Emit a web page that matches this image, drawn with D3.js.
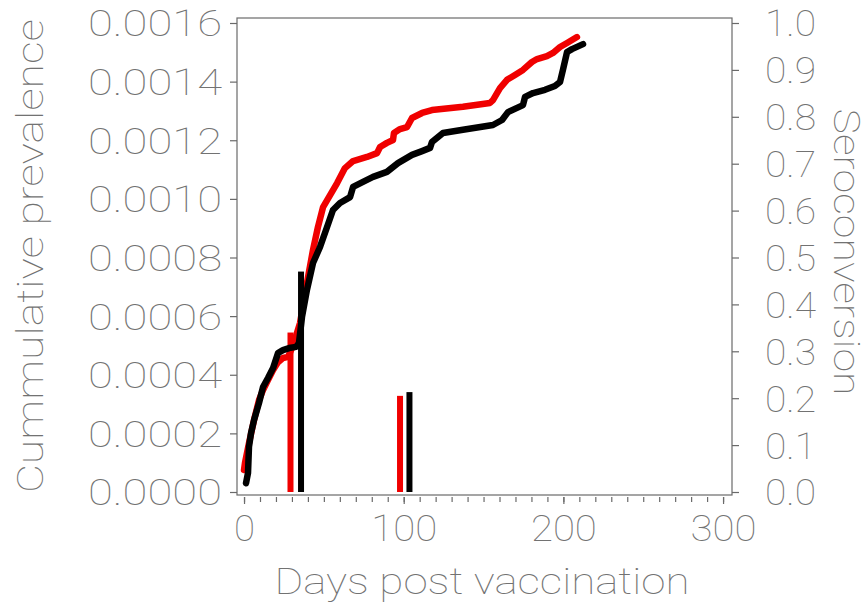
<!DOCTYPE html>
<html>
<head>
<meta charset="utf-8">
<script src="https://cdn.jsdelivr.net/npm/d3@7"></script>
<style>
  html, body { margin: 0; padding: 0; background: #fff; }
  svg { display: block; }
  .lbl { font-family: Roboto, "DejaVu Sans", sans-serif; font-weight: 100; fill: #727272; stroke: none; }
</style>
</head>
<body>
<svg id="chart" width="868" height="607"></svg>
<script>
// Cumulative prevalence curves (left axis): [day, prevalence]
const redDays = [0, 0.6, 3.1, 6.3, 9.4, 11.9, 15, 18.2, 21.3, 24.4, 27.6, 30.7, 35.1, 39.4, 43.2, 46.3, 49.5, 53.9, 58.3, 63.2, 68.3, 77, 83.3, 85.2, 89.5, 93.3, 93.9, 97.7, 102.1, 105.2, 111.5, 117.7, 137.1, 154, 155.9, 160.3, 164.7, 169.7, 174.7, 180.3, 183.5, 189.7, 193.5, 197.9, 202.3, 208.5];
const redPrev = [0.000075, 0.000099, 0.000167, 0.000246, 0.000314, 0.000348, 0.000382, 0.000416, 0.000443, 0.000457, 0.000461, 0.0005, 0.000577, 0.000713, 0.000826, 0.000904, 0.000972, 0.001013, 0.001054, 0.001105, 0.001129, 0.001143, 0.001156, 0.001177, 0.001191, 0.001201, 0.001225, 0.001238, 0.001245, 0.001276, 0.001293, 0.001303, 0.001314, 0.001327, 0.001337, 0.001378, 0.001406, 0.001423, 0.00144, 0.001467, 0.001477, 0.001487, 0.001498, 0.001518, 0.001532, 0.001552];

const blackDays = [1.25, 2.5, 3.1, 4.4, 6.3, 9.4, 11.9, 15, 18.2, 21.3, 24.4, 28.2, 32.6, 34.4, 36.3, 39.4, 43.2, 47.6, 52, 55.7, 60.1, 66.4, 68.3, 74.5, 80.8, 89.5, 96.4, 105.2, 111.5, 116.5, 117.7, 124.6, 137.1, 155.9, 161.6, 165.3, 174.7, 176, 181, 188.5, 194.7, 197.9, 199.7, 202.3, 205.4, 212.3];
const blackPrev = [0.00003, 0.000065, 0.000154, 0.000201, 0.000246, 0.000304, 0.000358, 0.000389, 0.000423, 0.000474, 0.000484, 0.000491, 0.000495, 0.000508, 0.000597, 0.000689, 0.000781, 0.000836, 0.000904, 0.000962, 0.000986, 0.001006, 0.001041, 0.001058, 0.001075, 0.001092, 0.001122, 0.00115, 0.001163, 0.001174, 0.001194, 0.001225, 0.001236, 0.001252, 0.001269, 0.001296, 0.00132, 0.001348, 0.001361, 0.001372, 0.001385, 0.001399, 0.00144, 0.001501, 0.001511, 0.001528];

// Seroconversion bars (right axis)
const redBarDays = [29.1, 97.7];
const redBarValues = [0.34, 0.205];
const blackBarDays = [35.7, 103.6];
const blackBarValues = [0.47, 0.213];

// Tick values
const leftTicks = [0, 0.0002, 0.0004, 0.0006, 0.0008, 0.0010, 0.0012, 0.0014, 0.0016];
const rightTicks = [0, 0.1, 0.2, 0.3, 0.4, 0.5, 0.6, 0.7, 0.8, 0.9, 1.0];
const xMajorTicks = [0, 100, 200, 300];
const xMinorTicks = d3.range(0, 301, 10);

const svg = d3.select("#chart");

const frame = { left: 237, right: 732, top: 18, bottom: 495 };
const x = d3.scaleLinear().domain([-4.4, 305.6]).range([frame.left, frame.right]);
const yL = d3.scaleLinear().domain([0, 0.0016]).range([492, 23]);
const yR = d3.scaleLinear().domain([0, 1]).range([492, 23]);

const axisColor = "#6a6a6a";

// Plot frame
svg.append("rect")
  .attr("x", frame.left).attr("y", frame.top)
  .attr("width", frame.right - frame.left).attr("height", frame.bottom - frame.top)
  .attr("fill", "none").attr("stroke", axisColor).attr("stroke-width", 1.2);

// Left axis
const gL = svg.append("g").attr("transform", `translate(${frame.left},0)`)
  .call(d3.axisLeft(yL).tickValues(leftTicks).tickSize(7).tickPadding(8).tickFormat(d3.format(".4f")));
gL.select(".domain").remove();
gL.selectAll(".tick line").attr("stroke", axisColor).attr("stroke-width", 1.2);
gL.selectAll(".tick text").attr("class", "lbl").attr("font-size", 36)
  .attr("dy", "0.36em").attr("textLength", 134).attr("lengthAdjust", "spacingAndGlyphs");

// Right axis
const gR = svg.append("g").attr("transform", `translate(${frame.right},0)`)
  .call(d3.axisRight(yR).tickValues(rightTicks).tickSize(7).tickPadding(26).tickFormat(d3.format(".1f")));
gR.select(".domain").remove();
gR.selectAll(".tick line").attr("stroke", axisColor).attr("stroke-width", 1.2);
gR.selectAll(".tick text").attr("class", "lbl").attr("font-size", 36)
  .attr("dy", "0.36em").attr("textLength", 51).attr("lengthAdjust", "spacingAndGlyphs");

// Bottom axis: minor ticks every 10 days, longer major ticks with labels
const gBm = svg.append("g").attr("transform", `translate(0,${frame.bottom})`)
  .call(d3.axisBottom(x).tickValues(xMinorTicks).tickSize(5).tickFormat(""));
gBm.select(".domain").remove();
gBm.selectAll(".tick line").attr("stroke", axisColor).attr("stroke-width", 1.2).attr("y1", 2).attr("y2", 7);

const gB = svg.append("g").attr("transform", `translate(0,${frame.bottom})`)
  .call(d3.axisBottom(x).tickValues(xMajorTicks).tickSize(8).tickFormat(d3.format("d")));
gB.select(".domain").remove();
gB.selectAll(".tick line").attr("stroke", axisColor).attr("stroke-width", 1.2).attr("y1", 2).attr("y2", 9);
gB.selectAll(".tick text").attr("class", "lbl").attr("font-size", 36)
  .attr("y", 46).attr("dy", 0)
  .each(function(d) {
    d3.select(this).attr("textLength", String(d).length === 1 ? 21 : 66).attr("lengthAdjust", "spacingAndGlyphs");
  });

// Axis titles
svg.append("text").attr("class", "lbl").attr("font-size", 37)
  .attr("text-anchor", "middle")
  .attr("transform", "translate(43,256) rotate(-90)")
  .attr("textLength", 474).attr("lengthAdjust", "spacingAndGlyphs")
  .text("Cummulative prevalence");

svg.append("text").attr("class", "lbl").attr("font-size", 37)
  .attr("text-anchor", "middle")
  .attr("transform", "translate(834,252) rotate(90)")
  .attr("textLength", 287).attr("lengthAdjust", "spacingAndGlyphs")
  .text("Seroconversion");

svg.append("text").attr("class", "lbl").attr("font-size", 37)
  .attr("text-anchor", "middle")
  .attr("x", 482).attr("y", 594)
  .attr("textLength", 415).attr("lengthAdjust", "spacingAndGlyphs")
  .text("Days post vaccination");

// Seroconversion bars
const barW = 6;
function bars(days, values, color) {
  svg.append("g").selectAll("rect")
    .data(days.map((d, i) => ({ d, v: values[i] })))
    .join("rect")
    .attr("x", p => x(p.d) - barW / 2)
    .attr("width", barW)
    .attr("y", p => yR(p.v))
    .attr("height", p => yR(0) - yR(p.v))
    .attr("fill", color);
}

// Prevalence curves
const line = d3.line().x(p => x(p[0])).y(p => yL(p[1]));
function curve(days, prev, color) {
  svg.append("path")
    .datum(days.map((d, i) => [d, prev[i]]))
    .attr("d", line)
    .attr("fill", "none")
    .attr("stroke", color)
    .attr("stroke-width", 6.5)
    .attr("stroke-linejoin", "round")
    .attr("stroke-linecap", "round");
}

bars(redBarDays, redBarValues, "#f00000");
curve(redDays, redPrev, "#f00000");
bars(blackBarDays, blackBarValues, "#000");
curve(blackDays, blackPrev, "#000");
</script>
</body>
</html>
